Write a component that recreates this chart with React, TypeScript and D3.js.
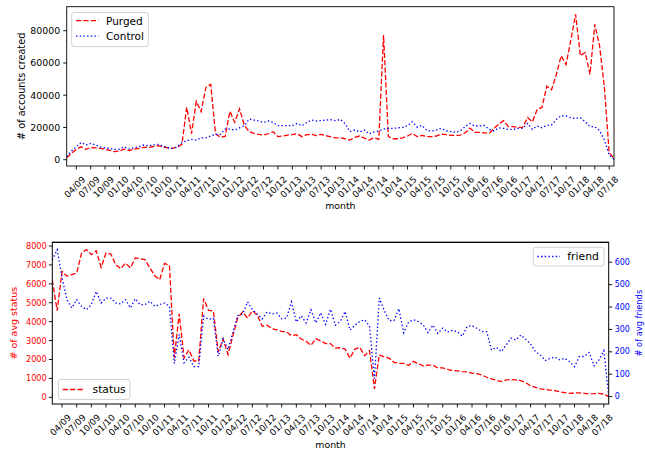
import React from 'react';
import * as d3 from 'd3';

// monthly points, 02/09 .. 08/18 (115 months)
const purged = [
  1200, 4000, 6400, 8000, 6400, 7600, 7400, 7000, 6400, 5800,
  5000, 5400, 6600, 5600, 6600, 7000, 7600, 7600, 8200, 8700,
  8000, 7400, 7000, 7800, 9500, 32500, 16200, 36200, 29800, 44900,
  46700, 16000, 14000, 14500, 30000, 23200, 31600, 21300, 17400, 16300,
  15700, 15300, 16100, 17400, 14300, 14700, 15300, 15500, 16100, 14300,
  15500, 15700, 14900, 15700, 14900, 14200, 13600, 13600, 13000, 12200,
  13800, 14700, 13400, 12200, 13600, 12600, 77300, 14300, 13000, 13000,
  13600, 14700, 16300, 14300, 15100, 14300, 14300, 14700, 15900, 15500,
  15100, 15100, 15300, 16700, 19600, 17000, 17000, 16700, 16300, 19400,
  22100, 24200, 20500, 20500, 20000, 20200, 26100, 23400, 31200, 32400,
  45600, 43400, 53000, 64500, 59000, 74000, 90200, 64500, 66500, 53000,
  83900, 70600, 44800, 4200, 1000,
];
const control = [
  1900, 5400, 8000, 10700, 9100, 10100, 9100, 8000, 7400, 7000,
  6400, 6600, 8000, 6600, 7400, 8000, 9100, 8700, 9100, 9500,
  8500, 7400, 7000, 8000, 10700, 11800, 12600, 12200, 13600, 13600,
  14700, 15700, 15700, 19000, 19000, 18400, 19800, 21100, 25200, 24600,
  24000, 23100, 24000, 23100, 21100, 21100, 21100, 21100, 22500, 21100,
  23100, 24600, 24000, 24200, 24600, 24800, 24200, 25000, 22400, 17400,
  18400, 17200, 18400, 16000, 17200, 17800, 19000, 19400, 19400, 19800,
  20000, 21100, 23600, 20200, 21300, 18200, 17800, 18400, 19400, 18000,
  17400, 17000, 18000, 20500, 22500, 20900, 20900, 21300, 18800, 17800,
  19800, 19400, 18800, 18800, 19400, 19400, 22500, 18800, 20900, 19800,
  21300, 21500, 25000, 27300, 27100, 26000, 25600, 26000, 23600, 20500,
  20500, 18000, 12200, 2900, 300,
];
const status = [
  6200, 4580, 6660, 6400, 6490, 6570, 7630, 7810, 7540, 7750,
  6870, 7630, 7580, 7010, 6800, 7100, 6840, 7370, 7330, 7280,
  6840, 6430, 6220, 7080, 6980, 2100, 4420, 2080, 2510, 1920,
  1920, 5220, 4600, 4570, 2400, 3080, 2260, 3250, 4200, 4510,
  4190, 4580, 4340, 3760, 3810, 3630, 3560, 3490, 3450, 3260,
  3310, 3080, 2960, 2750, 3100, 2980, 2840, 2840, 2600, 2620,
  2550, 2070, 2550, 2640, 2200, 2470, 450, 2250, 2140, 2070,
  1850, 1800, 1790, 1680, 1900, 1780, 1660, 1700, 1700, 1550,
  1560, 1480, 1410, 1400, 1360, 1340, 1270, 1250, 1180, 1060,
  970, 900, 830, 920, 940, 920, 880, 780, 600, 530,
  440, 410, 380, 350, 290, 250, 210, 230, 230, 210,
  180, 190, 210, 170, 35,
];
const friend = [
  610, 656, 530, 433, 396, 433, 403, 388, 411, 470,
  418, 440, 440, 418, 414, 433, 396, 437, 411, 411,
  426, 403, 411, 418, 403, 148, 278, 151, 176, 134,
  134, 360, 345, 350, 180, 258, 210, 287, 362, 369,
  423, 388, 369, 347, 378, 369, 373, 347, 351, 423,
  333, 361, 329, 388, 329, 374, 322, 390, 319, 336,
  380, 297, 319, 336, 343, 315, 80, 440, 385, 340,
  339, 393, 285, 333, 343, 335, 320, 286, 319, 282,
  306, 288, 296, 290, 270, 313, 317, 305, 290, 290,
  208, 220, 201, 231, 261, 253, 275, 256, 235, 201,
  186, 161, 171, 176, 164, 171, 156, 134, 179, 179,
  197, 137, 164, 205, 5,
];
const tickLabels = [
  '04/09', '07/09', '10/09', '01/10', '04/10', '07/10', '10/10', '01/11',
  '04/11', '07/11', '10/11', '01/12', '04/12', '07/12', '10/12', '01/13',
  '04/13', '07/13', '10/13', '01/14', '04/14', '07/14', '10/14', '01/15',
  '04/15', '07/15', '10/15', '01/16', '04/16', '07/16', '10/16', '01/17',
  '04/17', '07/17', '10/17', '01/18', '04/18', '07/18',
];
const firstTick = 2; // index of 04/09
const tickStep = 3;
const accTicks = [0, 20000, 40000, 60000, 80000];
const statusTicks = [0, 1000, 2000, 3000, 4000, 5000, 6000, 7000, 8000];
const friendTicks = [0, 100, 200, 300, 400, 500, 600];

const FONT = 'DejaVu Sans, sans-serif';
const RED = '#ff0000';
const BLUE = '#0000ff';
const DASH = '5.2 2.2';
const DOT = '1.4 2.3';

const XTicks = ({ x, y0 }: { x: d3.ScaleLinear<number, number>; y0: number }) => (
  <g>
    {tickLabels.map((t, k) => {
      const px = x(firstTick + k * tickStep);
      return (
        <g key={t}>
          <line x1={px} x2={px} y1={y0} y2={y0 + 3.5} stroke="#000" strokeWidth={0.9} />
          <text
            transform={`translate(${px - 1.5},${y0 + 21}) rotate(-45)`}
            textAnchor="middle"
            dominantBaseline="central"
            fontSize={8.9}
            fontFamily={FONT}
            fill="#000"
          >
            {t}
          </text>
        </g>
      );
    })}
  </g>
);

const LegendBox = ({ x, y, w, h }: { x: number; y: number; w: number; h: number }) => (
  <rect x={x} y={y} width={w} height={h} rx={2.5} fill="#fff" fillOpacity={0.8} stroke="#cccccc" strokeWidth={0.9} />
);

const App = () => {
  const idx = d3.range(purged.length);

  // top panel
  const t = { left: 66.7, right: 614, top: 6.7, bottom: 166 };
  const xT = d3.scaleLinear().domain([0, purged.length - 1]).range([t.left, t.right]);
  const yT = d3.scaleLinear().domain([-3900, 94900]).range([t.bottom, t.top]);
  const lineT = (vals: number[]) =>
    d3.line<number>().x((i) => xT(i)).y((i) => yT(vals[i]))(idx) || '';

  // bottom panel
  const b = { left: 52.3, right: 608.7, top: 242.3, bottom: 404 };
  const xB = d3.scaleLinear().domain([0, status.length - 1]).range([b.left, b.right]);
  const yS = d3.scaleLinear().domain([-354, 8197]).range([b.bottom, b.top]);
  const yF = d3.scaleLinear().domain([-33, 689]).range([b.bottom, b.top]);
  const lineS = d3.line<number>().x((i) => xB(i)).y((i) => yS(status[i]))(idx) || '';
  const lineF = d3.line<number>().x((i) => xB(i)).y((i) => yF(friend[i]))(idx) || '';

  return (
    <svg
      width={645}
      height={451}
      style={{ position: 'absolute', left: 0, top: 0, background: '#fff' }}
      fontFamily={FONT}
    >
      <rect width={645} height={451} fill="#fff" />

      {/* ---------- top: accounts created ---------- */}
      <defs>
        <clipPath id="clipT">
          <rect x={t.left} y={t.top} width={t.right - t.left} height={t.bottom - t.top} />
        </clipPath>
        <clipPath id="clipB">
          <rect x={b.left} y={b.top} width={b.right - b.left} height={b.bottom - b.top} />
        </clipPath>
      </defs>
      <g clipPath="url(#clipT)">
        <path d={lineT(purged)} fill="none" stroke={RED} strokeWidth={1.3} strokeDasharray={DASH} />
        <path d={lineT(control)} fill="none" stroke={BLUE} strokeWidth={1.3} strokeDasharray={DOT} />
      </g>
      <rect x={t.left} y={t.top} width={t.right - t.left} height={t.bottom - t.top} fill="none" stroke="#000" strokeWidth={0.9} />
      {accTicks.map((v) => (
        <g key={v}>
          <line x1={t.left - 3.5} x2={t.left} y1={yT(v)} y2={yT(v)} stroke="#000" strokeWidth={0.9} />
          <text x={t.left - 6.5} y={yT(v)} textAnchor="end" dominantBaseline="central" fontSize={9.4}>
            {v}
          </text>
        </g>
      ))}
      <XTicks x={xT} y0={t.bottom} />
      <text x={(t.left + t.right) / 2} y={208.5} textAnchor="middle" fontSize={9.4}>month</text>
      <text transform={`translate(24.5,${(t.top + t.bottom) / 2}) rotate(-90)`} textAnchor="middle" fontSize={9.7}>
        # of accounts created
      </text>

      <LegendBox x={71.7} y={12.5} w={76.6} h={34.2} />
      <line x1={76} x2={98.5} y1={20.7} y2={20.7} stroke={RED} strokeWidth={1.3} strokeDasharray={DASH} />
      <text x={106} y={20.7} dominantBaseline="central" fontSize={10.5}>Purged</text>
      <line x1={76} x2={98.5} y1={36.2} y2={36.2} stroke={BLUE} strokeWidth={1.3} strokeDasharray={DOT} />
      <text x={106} y={36.2} dominantBaseline="central" fontSize={10.5}>Control</text>

      {/* ---------- bottom: avg status / friends ---------- */}
      <g clipPath="url(#clipB)">
        <path d={lineS} fill="none" stroke={RED} strokeWidth={1.3} strokeDasharray={DASH} />
        <path d={lineF} fill="none" stroke={BLUE} strokeWidth={1.3} strokeDasharray={DOT} />
      </g>
      <rect x={b.left} y={b.top} width={b.right - b.left} height={b.bottom - b.top} fill="none" stroke="#000" strokeWidth={1} />
      <line x1={b.left} x2={b.right} y1={b.top} y2={b.top} stroke="#000" strokeWidth={1} />
      {statusTicks.map((v) => (
        <g key={v}>
          <line x1={b.left - 3.5} x2={b.left} y1={yS(v)} y2={yS(v)} stroke="#000" strokeWidth={0.9} />
          <text x={b.left - 5.5} y={yS(v)} textAnchor="end" dominantBaseline="central" fontSize={8.2} fill={RED}>
            {v}
          </text>
        </g>
      ))}
      {friendTicks.map((v) => (
        <g key={v}>
          <line x1={b.right} x2={b.right + 3.5} y1={yF(v)} y2={yF(v)} stroke="#000" strokeWidth={0.9} />
          <text x={b.right + 6} y={yF(v)} dominantBaseline="central" fontSize={8} fill={BLUE}>
            {v}
          </text>
        </g>
      ))}
      <XTicks x={xB} y0={b.bottom} />
      <text x={(b.left + b.right) / 2} y={448} textAnchor="middle" fontSize={9.4}>month</text>
      <text transform={`translate(16.5,${(b.top + b.bottom) / 2}) rotate(-90)`} textAnchor="middle" fontSize={9.5} fill={RED}>
        # of avg status
      </text>
      <text transform={`translate(642,${(b.top + b.bottom) / 2}) rotate(-90)`} textAnchor="middle" fontSize={8.3} fill={BLUE}>
        # of avg friends
      </text>

      <LegendBox x={58.3} y={379.5} w={71.7} h={20} />
      <line x1={62.7} x2={85} y1={389.5} y2={389.5} stroke={RED} strokeWidth={1.3} strokeDasharray={DASH} />
      <text x={92.5} y={389.5} dominantBaseline="central" fontSize={10.8}>status</text>

      <LegendBox x={533.3} y={247.3} w={70.7} h={18.7} />
      <line x1={537.3} x2={560} y1={256.5} y2={256.5} stroke={BLUE} strokeWidth={1.3} strokeDasharray={DOT} />
      <text x={567.3} y={256.5} dominantBaseline="central" fontSize={10.8}>friend</text>
    </svg>
  );
};

export default App;
